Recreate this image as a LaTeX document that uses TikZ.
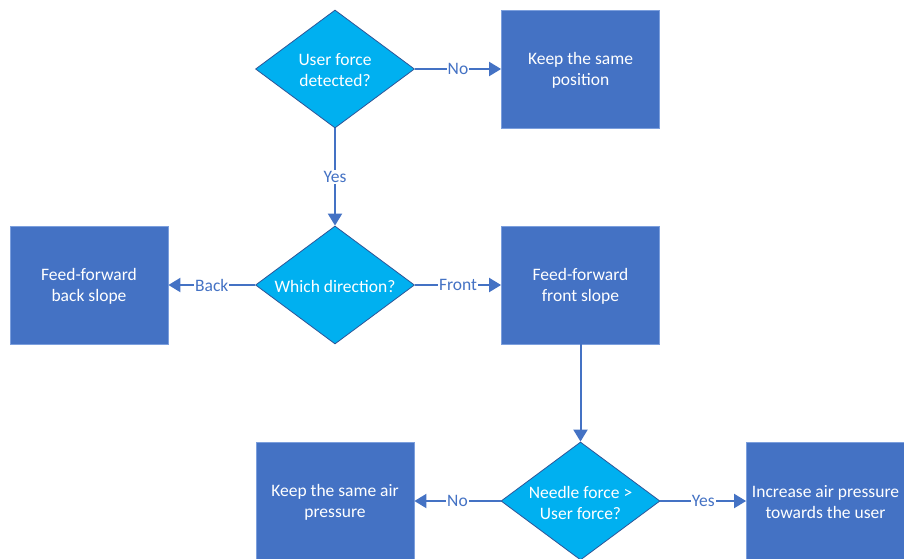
\documentclass[tikz,border=0pt]{standalone}
\usepackage{fontspec}
\setmainfont{Carlito}
\usetikzlibrary{shapes.geometric,arrows.meta}
\definecolor{boxblue}{HTML}{4472C4}
\definecolor{boxedge}{HTML}{7C9FDD}
\definecolor{cyanfill}{HTML}{00B0F0}
\definecolor{dedge}{HTML}{2F5597}
\definecolor{arrowblue}{HTML}{4472C4}
\begin{document}
\begin{tikzpicture}[x=1pt,y=-1pt,
  actbox/.style={rectangle, fill=boxblue, draw=boxedge, line width=0.8pt,
    minimum width=158pt, minimum height=118pt, inner sep=0pt,
    text=white, align=center, font=\fontsize{17.5}{21}\selectfont},
  decbox/.style={diamond, fill=cyanfill, draw=dedge, line width=0.8pt,
    minimum width=159pt, minimum height=118pt, inner sep=0pt},
  dectext/.style={text=white, align=center, font=\fontsize{17.5}{21}\selectfont},
  arr/.style={draw=arrowblue, line width=2pt, -{Triangle[length=12pt,width=14pt]}},
  lbl/.style={fill=white, text=arrowblue, inner sep=1pt, font=\fontsize{17.5}{21}\selectfont}]
\useasboundingbox (0,0) rectangle (904,558);
\clip (0,0) rectangle (904,558);

\node[decbox] (d1) at (335,69) {};
\node[dectext] (t1) at ([yshift=-1.5pt]d1.center) {User force\\detected?};
\node[actbox] (k1) at (580.5,69) {};
\node[dectext] (kt1) at ([yshift=-1.5pt]k1.center) {Keep the same\\position};

\node[decbox] (d2) at (335,285) {};
\node[dectext] (t2) at ([yshift=-1pt]d2.center) {Which direction?};
\node[actbox] (bb) at (89,285) {};
\node[dectext] (bbt) at ([yshift=-1.5pt]bb.center) {Feed-forward\\back slope};
\node[actbox] (ff) at (580.5,285) {};
\node[dectext] (fft) at ([yshift=-1.5pt]ff.center) {Feed-forward\\front slope};

\node[decbox] (d3) at (580.5,501) {};
\node[dectext] (t3) at ([yshift=-1.5pt]d3.center) {Needle force >\\User force?};
\node[actbox] (k2) at (335,501) {};
\node[dectext] (k2t) at ([yshift=-1.5pt]k2.center) {Keep the same air\\pressure};
\node[actbox] (inc) at (825.5,501) {};
\node[dectext] (inct) at ([yshift=-1.5pt]inc.center) {Increase air pressure\\towards the user};

\draw[arr] (d1.east) -- node[lbl]{No} (k1.west);
\draw[arr] (d1.south) -- node[lbl]{Yes} (d2.north);
\draw[arr] (d2.west) -- node[lbl]{Back} (bb.east);
\draw[arr] (d2.east) -- node[lbl]{Front} (ff.west);
\draw[arr] (ff.south) -- (d3.north);
\draw[arr] (d3.west) -- node[lbl]{No} (k2.east);
\draw[arr] (d3.east) -- node[lbl]{Yes} (inc.west);
\end{tikzpicture}
\end{document}
